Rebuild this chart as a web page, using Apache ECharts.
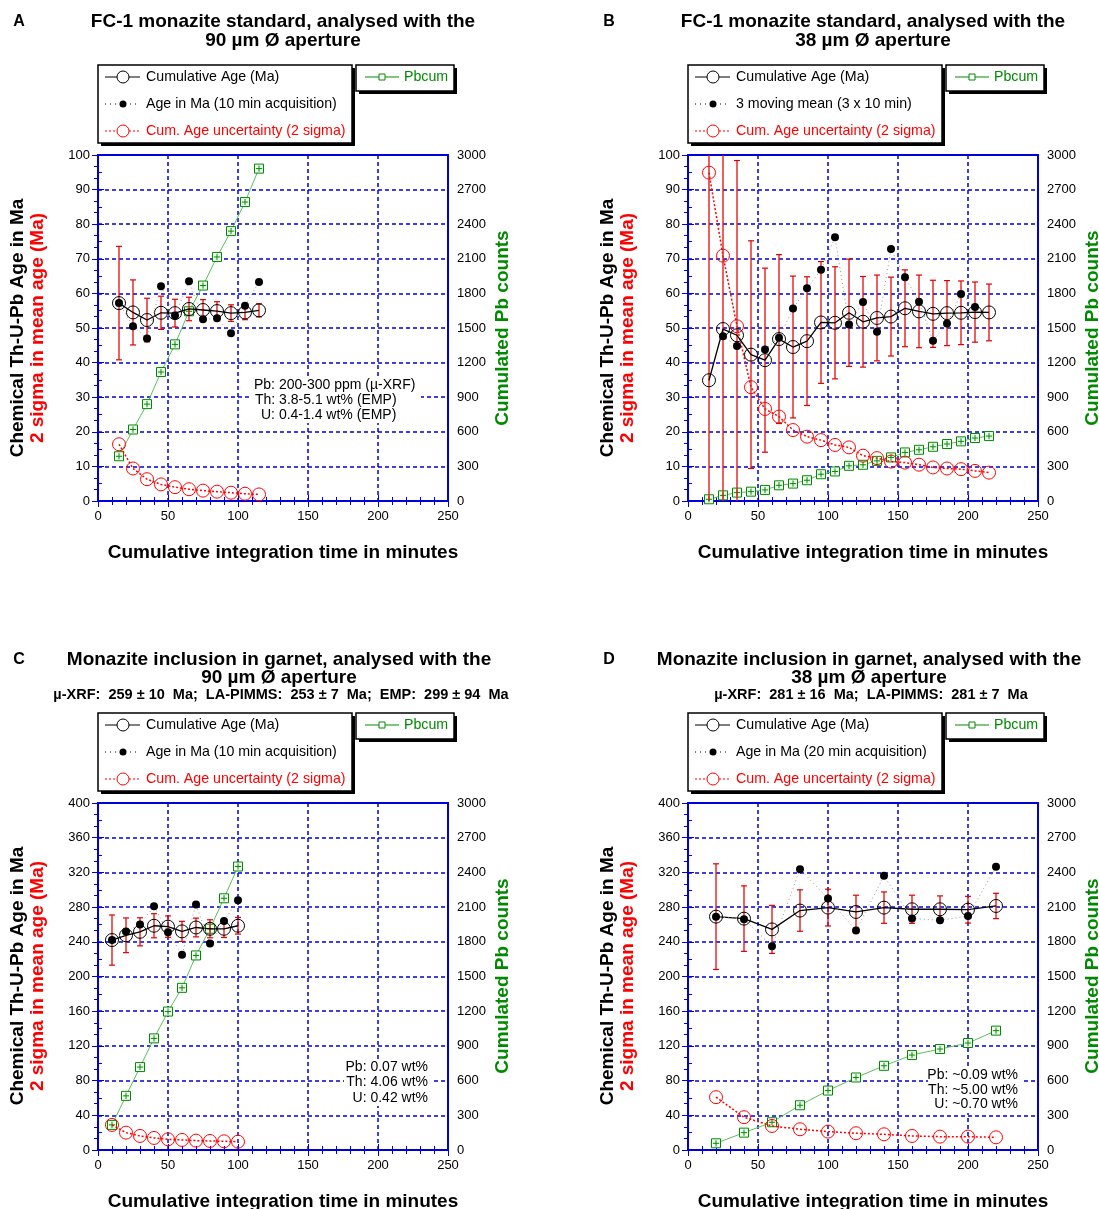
<!DOCTYPE html>
<html><head><meta charset="utf-8">
<script src="https://cdn.jsdelivr.net/npm/echarts@6/dist/echarts.min.js"></script>
<style>html,body{margin:0;padding:0;background:#fff}#c{width:1099px;height:1209px}</style>
</head><body><div id="c"></div><script>
// ---------- DATA ----------
const timeA = [15,25,35,45,55,65,75,85,95,105,115];
const cumAgeA = [57.2,54.5,52.3,54.4,54.3,55.5,55.2,54.9,54.3,54.5,55.1];
const ageA = [57.2,50.5,47.0,62.1,53.6,63.5,52.5,52.8,48.5,56.4,63.3];
const uncA = [16.4,9.4,6.3,4.8,4.0,3.4,3.0,2.7,2.4,2.1,1.9];
const pbA = [388,620,840,1118,1358,1645,1868,2116,2340,2592,2882];

const timeB = [15,25,35,45,55,65,75,85,95,105,115,125,135,145,155,165,175,185,195,205,215];
const cumAgeB = [34.9,49.7,47.9,42.3,40.7,46.8,44.5,46.2,51.6,51.5,54.4,51.8,52.9,53.3,55.7,54.8,54.1,54.3,54.4,54.6,54.5];
const ageB = [null,47.6,44.8,null,43.8,47.2,55.6,61.5,66.8,76.2,51.0,57.5,48.9,72.8,64.7,57.6,46.3,51.3,59.8,56.1,null];
const uncB = [94.9,70.9,50.5,32.9,26.6,24.4,20.5,18.6,17.6,16.2,15.5,13.1,12.4,11.4,11.1,10.5,9.7,9.4,9.2,8.7,8.2];
const pbB = [15,49,73,81,96,136,151,180,232,256,305,314,348,378,421,444,470,494,517,546,563];

const timeC = [10,20,30,40,50,60,70,80,90,100];
const cumAgeC = [242,247.5,251.5,258.5,257.5,252,256.5,255,255,258.5];
const ageC = [242,252,260,281,251,225,283,238,264,288];
const uncC = [28.9,20.0,16.2,13.9,12.3,11.6,10.8,10.4,10.0,9.6];
const pbC = [217,468,717,965,1197,1402,1682,1913,2176,2451];

const timeD = [20,40,60,80,100,120,140,160,180,200,220];
const cumAgeD = [269,266.7,254.3,276,279.4,274.4,279.4,277.5,277.5,277,281.3];
const ageD = [269,266,235,323.7,290,253,316,267,264.7,269.7,326.4];
const uncD = [60.9,37.8,27.7,23.9,21.2,19.3,18.1,16.2,15.4,15.4,14.6];
const pbD = [58,150,240,387,514,627,728,821,873,925,1032];

const xTicks = {min:0, max:250, interval:50};
const leftTicksAB = {min:0, max:100, interval:10};
const leftTicksCD = {min:0, max:400, interval:40};
const rightTicks = {min:0, max:3000, interval:300};

// ---------- LAYOUT / STYLE ----------
const FONT = '"Liberation Sans", Arial, Helvetica, sans-serif';
const BLUE = '#0000d8';
const RED = '#ff0000';
const GREEN = '#008a00';

const panels = [
  {letter:'A', gx:98, gy:155, h:346, left:leftTicksAB, time:timeA, cum:cumAgeA, age:ageA, unc:uncA, pb:pbA,
   t1:'FC-1 monazite standard, analysed with the', t2:'90 µm Ø aperture', sub:null, tcx:185, ty:22,
   leg2:'Age in Ma (10 min acquisition)',
   note:[['Pb: 200-300 ppm (µ-XRF)',254,385,'left'],['Th: 3.8-5.1 wt% (EMP)',255,400,'left'],['U: 0.4-1.4 wt% (EMP)',261,415,'left']],
   nbox:[251,377,170,46]},
  {letter:'B', gx:688, gy:155, h:346, left:leftTicksAB, time:timeB, cum:cumAgeB, age:ageB, unc:uncB, pb:pbB,
   t1:'FC-1 monazite standard, analysed with the', t2:'38 µm Ø aperture', sub:null, tcx:185, ty:22,
   leg2:'3 moving mean (3 x 10 min)', note:null},
  {letter:'C', gx:98, gy:803, h:347, left:leftTicksCD, time:timeC, cum:cumAgeC, age:ageC, unc:uncC, pb:pbC,
   t1:'Monazite inclusion in garnet, analysed with the', t2:'90 µm Ø aperture',
   sub:'µ-XRF:  259 ± 10  Ma;  LA-PIMMS:  253 ± 7  Ma;  EMP:  299 ± 94  Ma', tcx:181, ty:660,
   leg2:'Age in Ma (10 min acquisition)',
   note:[['Pb: 0.07 wt%',428,1067,'right'],['Th: 4.06 wt%',428,1082.5,'right'],['U: 0.42 wt%',428,1098,'right']],
   nbox:[344,1059,87,47]},
  {letter:'D', gx:688, gy:803, h:347, left:leftTicksCD, time:timeD, cum:cumAgeD, age:ageD, unc:uncD, pb:pbD,
   t1:'Monazite inclusion in garnet, analysed with the', t2:'38 µm Ø aperture',
   sub:'µ-XRF:  281 ± 16  Ma;  LA-PIMMS:  281 ± 7  Ma', tcx:181, ty:660,
   leg2:'Age in Ma (20 min acquisition)',
   note:[['Pb: ~0.09 wt%',1018,1075.5,'right'],['Th: ~5.00 wt%',1018,1090,'right'],['U: ~0.70 wt%',1018,1104.5,'right']],
   nbox:[928,1067,93,46]}
];
const W = 350;
const SQ = 'path://M0 0H10V10H0Z M5 1.5V8.5 M1.5 5H8.5';

function zip(a,b){ return a.map((v,i)=>[v, b[i]]); }

function renderErr(params, api){
  const x = api.value(0), lo = api.value(1), hi = api.value(2);
  const pt = api.coord([x, hi]), pbt = api.coord([x, lo]);
  const cs = params.coordSys;
  const yTop = cs.y, yBot = cs.y + cs.height;
  const y1 = Math.max(pt[1], yTop), y2 = Math.min(pbt[1], yBot);
  const st = {stroke:'rgba(232,20,20,0.85)', lineWidth:1.6};
  const cap = {stroke:'#e00000', lineWidth:1.2};
  const ch = [{type:'line', shape:{x1:pt[0], y1:y1, x2:pt[0], y2:y2}, style:st}];
  const cw = 3;
  if (pt[1] >= yTop) ch.push({type:'line', shape:{x1:pt[0]-cw, y1:pt[1], x2:pt[0]+cw, y2:pt[1]}, style:cap});
  if (pbt[1] <= yBot) ch.push({type:'line', shape:{x1:pbt[0]-cw, y1:pbt[1], x2:pbt[0]+cw, y2:pbt[1]}, style:cap});
  return {type:'group', children: ch};
}

const option = {animation:false, grid:[], xAxis:[], yAxis:[], series:[], graphic:[]};
const axisLine = {show:true, lineStyle:{color:BLUE, width:2}};
const labelStyle = {color:'#000', fontSize:13, fontFamily:FONT};
const gridLine = {show:true, lineStyle:{color:BLUE, type:[4,3], width:1.5}};

function txt(x, y, text, o){
  o = o || {};
  return {type:'text', x:x, y:y, rotation:o.rot||0, z:o.z||100, silent:true,
    style:{text:text, fill:o.fill||'#000', fontSize:o.size||19, fontWeight:o.weight||'bold', fontFamily:FONT,
      align:o.align||'center', verticalAlign:'middle'}};
}
function rect(x,y,w,h,fill,stroke,lw,z){
  return {type:'rect', z:z||90, silent:true, shape:{x:x,y:y,width:w,height:h}, style:{fill:fill, stroke:stroke||null, lineWidth:lw||0}};
}
function line(x1,y1,x2,y2,stroke,lw,dash){
  return {type:'line', z:95, silent:true, shape:{x1,y1,x2,y2}, style:{stroke, lineWidth:lw, lineDash:dash||null}};
}
function circ(cx,cy,r,fill,stroke){
  return {type:'circle', z:96, silent:true, shape:{cx,cy,r}, style:{fill, stroke:stroke||null, lineWidth:1}};
}

panels.forEach((p,i)=>{
  const gx = p.gx, gy = p.gy, h = p.h;
  option.grid.push({left:gx, top:gy, width:W, height:h, show:true, borderColor:BLUE, borderWidth:2, backgroundColor:'transparent'});
  option.xAxis.push({gridIndex:i, type:'value', min:xTicks.min, max:xTicks.max, interval:xTicks.interval, position:'bottom',
    axisLine:axisLine, axisTick:{inside:true, length:6, lineStyle:{color:BLUE, width:1}},
    minorTick:{show:true, splitNumber:5, length:4, lineStyle:{color:BLUE}},
    axisLabel:Object.assign({margin:9}, labelStyle), splitLine:gridLine});
  option.xAxis.push({gridIndex:i, type:'value', min:xTicks.min, max:xTicks.max, interval:xTicks.interval, position:'top',
    axisLine:axisLine, axisTick:{inside:true, length:6, lineStyle:{color:BLUE, width:1}},
    minorTick:{show:true, splitNumber:5, length:4, lineStyle:{color:BLUE}},
    axisLabel:{show:false}, splitLine:{show:false}});
  option.yAxis.push({gridIndex:i, type:'value', min:p.left.min, max:p.left.max, interval:p.left.interval, position:'left',
    axisLine:axisLine, axisTick:{inside:true, length:6, lineStyle:{color:BLUE}},
    minorTick:{show:true, splitNumber:2, length:4, lineStyle:{color:BLUE}},
    axisLabel:Object.assign({margin:8, formatter:v=>String(v)}, labelStyle), splitLine:gridLine});
  option.yAxis.push({gridIndex:i, type:'value', min:rightTicks.min, max:rightTicks.max, interval:rightTicks.interval, position:'right',
    axisLine:axisLine, axisTick:{inside:true, length:6, lineStyle:{color:BLUE}},
    minorTick:{show:true, splitNumber:3, length:4, lineStyle:{color:BLUE}},
    axisLabel:Object.assign({margin:9, formatter:v=>String(v)}, labelStyle), splitLine:{show:false}});
  const xi = 2*i, yl = 2*i, yr = 2*i+1;
  option.series.push({type:'line', xAxisIndex:xi, yAxisIndex:yr, data:zip(p.time,p.pb), showAllSymbol:true,
    lineStyle:{color:'#5cbf5c', width:1}, symbol:SQ, symbolSize:9, symbolKeepAspect:true,
    itemStyle:{color:'#f4fff4', borderColor:GREEN, borderWidth:1}, z:2});
  option.series.push({type:'line', xAxisIndex:xi, yAxisIndex:yl, data:zip(p.time,p.unc), showAllSymbol:true,
    lineStyle:{color:RED, width:1.5, type:[2,2]}, symbol:'circle', symbolSize:13,
    itemStyle:{color:'rgba(255,255,255,0)', borderColor:RED, borderWidth:1}, z:3});
  option.series.push({type:'custom', xAxisIndex:xi, yAxisIndex:yl, renderItem:renderErr,
    data:p.time.map((t,k)=>[t, p.cum[k]-p.unc[k], p.cum[k]+p.unc[k]]), encode:{x:0, y:[1,2]}, z:4});
  option.series.push({type:'line', xAxisIndex:xi, yAxisIndex:yl, data:zip(p.time,p.cum), showAllSymbol:true,
    lineStyle:{color:'#000', width:1.3}, symbol:'circle', symbolSize:13,
    itemStyle:{color:'rgba(255,255,255,0)', borderColor:'#000', borderWidth:1}, z:5});
  option.series.push({type:'line', xAxisIndex:xi, yAxisIndex:yl, data:zip(p.time,p.age), showAllSymbol:true,
    connectNulls:false, lineStyle:{color:'#999', width:1, type:[1,3]}, symbol:'circle', symbolSize:8,
    itemStyle:{color:'#000'}, z:6});

  // ---- titles ----
  const G = option.graphic;
  G.push(txt(gx-79, p.ty, p.letter, {size:16}));
  G.push(txt(gx+p.tcx, p.ty, p.t1));
  G.push(txt(gx+p.tcx, p.ty + (p.sub ? 18 : 19), p.t2));
  if (p.sub) G.push(txt(gx+p.tcx+2, p.ty+35, p.sub, {size:14.5}));
  // axis titles
  G.push(txt(gx-80, gy+173, 'Chemical Th-U-Pb Age in Ma', {rot:Math.PI/2}));
  G.push(txt(gx-60, gy+173, '2 sigma in mean age (Ma)', {rot:Math.PI/2, fill:RED}));
  G.push(txt(gx+405, gy+173, 'Cumulated Pb counts', {rot:Math.PI/2, fill:GREEN}));
  G.push(txt(gx+185, gy+h+52, 'Cumulative integration time in minutes'));
  // legend box 1
  const ly = gy-90;
  G.push(rect(gx+3, ly+3, 254, 78, '#000'));
  G.push(rect(gx, ly, 254, 78, '#fff', '#000', 1.5));
  const r1 = gy-78, r2 = gy-51, r3 = gy-24;
  G.push(line(gx+7, r1, gx+42, r1, '#000', 1.2));
  G.push(circ(gx+25, r1, 6, '#fff', '#000'));
  G.push(txt(gx+48, r1, 'Cumulative Age (Ma)', {size:14.2, weight:'normal', align:'left'}));
  G.push(line(gx+7, r2, gx+42, r2, '#000', 1, [1,4]));
  G.push(circ(gx+25, r2, 3.5, '#000'));
  G.push(txt(gx+48, r2, p.leg2, {size:14.2, weight:'normal', align:'left'}));
  G.push(line(gx+7, r3, gx+42, r3, RED, 1, [2,2]));
  G.push(circ(gx+25, r3, 6, '#fff', RED));
  G.push(txt(gx+48, r3, 'Cum. Age uncertainty (2 sigma)', {size:14.2, weight:'normal', align:'left', fill:RED}));
  // legend box 2
  G.push(rect(gx+261, ly+3, 98, 26, '#000'));
  G.push(rect(gx+258, ly, 98, 26, '#fff', '#000', 1.5));
  G.push(line(gx+267, r1, gx+301, r1, GREEN, 1));
  G.push(rect(gx+281, r1-3, 6, 6, '#fff', GREEN, 1, 96));
  G.push(line(gx+284, r1-3, gx+284, r1+3, GREEN, 1));
  G.push(line(gx+281, r1, gx+287, r1, GREEN, 1));
  G.push(txt(gx+306, r1, 'Pbcum', {size:14.2, weight:'normal', align:'left', fill:GREEN}));
  // note with white backing
  if (p.note) {
    G.push(rect(p.nbox[0], p.nbox[1], p.nbox[2], p.nbox[3], '#fff', null, 0, 1));
    p.note.forEach(n=>G.push(txt(n[1], n[2], n[0], {size:14, weight:'normal', align:n[3]})));
  }
});

const chart = echarts.init(document.getElementById('c'), null, {renderer:'canvas'});
chart.setOption(option);
</script></body></html>
